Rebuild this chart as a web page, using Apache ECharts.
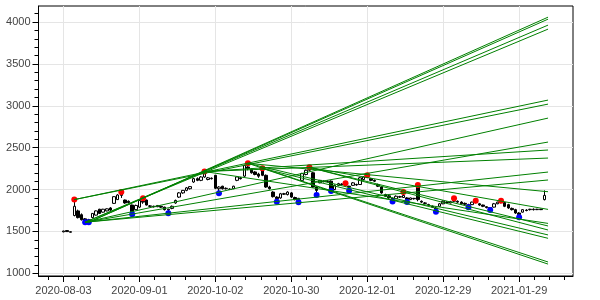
<!DOCTYPE html>
<html><head><meta charset="utf-8">
<script src="https://cdn.jsdelivr.net/npm/echarts@6/dist/echarts.min.js"></script>
<style>html,body{margin:0;padding:0;background:#fff}#c{width:600px;height:300px}</style>
</head><body><div id="c"></div>
<script>
// x tick labels (every 21 trading days, starting at index 0)
const tickLabels = ['2020-08-03','2020-09-01','2020-10-02','2020-10-30','2020-12-01','2020-12-29','2021-01-29'];
const tickStep = 21;
const yTicks = [1000,1500,2000,2500,3000,3500,4000];

const open  = [1495,1510,1490,1690,1745,1700,1650,1625,1665,1695,1765,1730,1745,1780,1835,1880,1930,1875,1860,1815,
1760,1790,1860,1875,1800,1800,1795,1800,1790,1755,1775,1840,1910,1960,1990,2010,2090,2130,2110,2150,
2120,2135,2170,2010,2040,2010,2000,2010,2110,2140,2160,2270,2245,2210,2185,2230,2170,2030,1970,1910,
1900,1950,1940,1960,1905,1880,2110,2180,2230,2200,2030,2080,2100,2095,2100,2000,2050,2065,2060,2040,
2050,2060,2060,2120,2150,2130,2110,2060,2030,1940,1925,1895,1890,1915,1905,1900,1880,1895,2040,1860,
1840,1820,1800,1780,1800,1830,1850,1840,1860,1860,1850,1835,1820,1820,1850,1830,1815,1795,1785,1790,
1830,1850,1845,1820,1775,1760,1720,1730,1755,1760,1765,1760,1765,1880];
const close = [1505,1498,1497,1800,1665,1640,1625,1640,1715,1745,1715,1765,1770,1755,1915,1935,1950,1840,1845,1735,
1810,1870,1850,1815,1805,1795,1810,1790,1760,1765,1800,1870,1960,1990,2020,2035,2130,2110,2150,2190,
2140,2130,2015,2030,2010,2015,2005,2040,2150,2130,2290,2250,2200,2180,2160,2170,2030,2010,1915,1890,
1950,1945,1970,1910,1880,1895,2190,2230,2250,2030,1990,2110,2095,2100,1995,2050,2070,2060,2050,2030,
2080,2055,2140,2150,2160,2110,2100,2040,1960,1920,1900,1880,1920,1910,1930,1880,1900,1890,1880,1850,
1835,1815,1790,1770,1830,1860,1845,1855,1870,1850,1830,1825,1810,1850,1845,1815,1800,1785,1775,1830,
1850,1845,1800,1780,1760,1720,1700,1760,1750,1765,1760,1765,1760,1930];
const low   = [1490,1494,1487,1680,1655,1630,1610,1610,1655,1690,1710,1725,1740,1745,1830,1875,1900,1830,1835,1704,
1755,1780,1830,1810,1790,1785,1790,1780,1750,1716,1765,1830,1900,1950,1980,2000,2080,2100,2100,2140,
2110,2120,2005,1955,2000,2000,1995,2005,2100,2120,2150,2230,2190,2170,2140,2160,2020,2000,1905,1855,
1890,1935,1930,1900,1870,1848,2100,2170,2220,2020,1935,2075,2085,2085,1982,1995,2040,2050,2040,1985,
2045,2045,2055,2115,2140,2100,2090,2030,1950,1910,1890,1858,1885,1900,1900,1852,1875,1880,1860,1840,
1825,1805,1780,1735,1795,1825,1835,1835,1850,1840,1820,1815,1788,1815,1835,1805,1790,1775,1756,1785,
1825,1835,1790,1770,1750,1710,1669,1725,1740,1750,1750,1755,1755,1870];
const high  = [1508,1513,1500,1880,1760,1715,1660,1650,1720,1750,1770,1770,1775,1790,1920,1945,1970,1880,1870,1820,
1820,1880,1895,1880,1815,1808,1815,1808,1795,1770,1810,1880,1970,1995,2030,2040,2140,2145,2160,2215,
2150,2145,2175,2040,2045,2025,2015,2045,2155,2150,2295,2313,2255,2220,2200,2253,2180,2045,1980,1920,
1960,1960,1980,1970,1915,1900,2200,2240,2265,2210,2040,2115,2110,2110,2110,2060,2080,2075,2074,2045,
2090,2070,2150,2160,2170,2140,2120,2070,2040,1950,1935,1905,1930,1925,1970,1910,1905,1900,2054,1870,
1850,1830,1810,1790,1840,1870,1860,1865,1895,1870,1860,1845,1830,1855,1867,1840,1820,1800,1790,1840,
1855,1867,1850,1830,1785,1770,1730,1765,1765,1770,1775,1770,1770,1990];

const peakIdx = [3,16,22,39,51,55,68,78,84,94,98,108,114,121];
const peakVal = [1880,1970,1895,2215,2313,2253,2265,2074,2170,1970,2054,1895,1867,1867];
const troughIdx = [6,7,19,29,43,59,65,70,74,79,91,95,103,112,118,126];
const troughVal = [1610,1610,1704,1716,1955,1855,1848,1935,1982,1985,1858,1852,1735,1788,1756,1669];

// trend lines: start index, start value, value at the end index
const lineEndIdx = 134;
const lineStartIdx = [6,6,7,7,3,3,6,6,39,39,6,6,51,55,51,55,68,68,39,51,68];
const lineStartVal = [1610,1610,1610,1610,1880,1880,1610,1610,2215,2215,1610,1610,2313,2253,2313,2253,2265,2265,2215,2313,2265];
const lineEndVal   = [3915,3963,4034,4058,3068,3020,2853,2567,2472,2376,2209,2114,1135,1110,1458,1418,1517,1565,1596,1974,1763];

const xMin = -6.9, xMax = 140.9, yMin = 968, yMax = 4191;

const majorX = tickLabels.map((_, i) => i * tickStep);
const minorX = [];
for (let k = -2; k <= 6 * 5 + 5; k++) { const v = k * tickStep / 5; if (k % 5 !== 0 && v > xMin && v < xMax) minorX.push(+v.toFixed(3)); }
const minorY = [];
for (let v = 900; v <= 4200; v += 100) { if (v % 500 !== 0 && v > yMin && v < yMax) minorY.push(v); }

const candles = open.map((o, i) => [i, o, close[i], low[i], high[i]]);
const font = { fontFamily: 'Liberation Sans, Arial, Helvetica, sans-serif', fontSize: 11, color: '#444' };

const series = [{
  type: 'candlestick', data: candles, encode: { x: 0, y: [1, 2, 3, 4] },
  barWidth: 3, z: 2, silent: true,
  itemStyle: { color: '#ffffff', color0: '#000000', borderColor: '#000000', borderColor0: '#000000', borderWidth: 1 }
}, {
  type: 'scatter', data: peakIdx.map((x, i) => [x, peakVal[i]]), symbolSize: 6, z: 3, silent: true,
  itemStyle: { color: '#ff0000', opacity: 1 }
}, {
  type: 'scatter', data: troughIdx.map((x, i) => [x, troughVal[i]]), symbolSize: 6, z: 3, silent: true,
  itemStyle: { color: '#0000ff', opacity: 1 }
}];
lineStartIdx.forEach((s, i) => {
  series.push({ type: 'line', data: [[s, lineStartVal[i]], [lineEndIdx, lineEndVal[i]]], symbol: 'none', z: 4, silent: true,
    lineStyle: { color: '#008000', width: 1 } });
});

const chart = echarts.init(document.getElementById('c'), null, { renderer: 'canvas' });
chart.setOption({
  animation: false,
  grid: { left: 38.5, right: 27, top: 6, bottom: 24, show: true, borderColor: '#000', borderWidth: 1, backgroundColor: 'transparent' },
  xAxis: [{
    type: 'value', min: xMin, max: xMax, position: 'bottom',
    axisLine: { onZero: false, lineStyle: { color: '#000', width: 1 } },
    axisTick: { show: true, length: 6, customValues: majorX, lineStyle: { color: '#000' } },
    axisLabel: { customValues: majorX, margin: 9, formatter: v => tickLabels[Math.round(v / tickStep)] || '', ...font },
    splitLine: { show: true, lineStyle: { color: '#e5e5e5', width: 1 } }
  }, {
    type: 'value', min: xMin, max: xMax, position: 'bottom',
    axisLine: { show: false, onZero: false }, axisLabel: { show: false }, splitLine: { show: false },
    axisTick: { show: true, length: 4, customValues: minorX, lineStyle: { color: '#000' } }
  }],
  yAxis: [{
    type: 'value', min: yMin, max: yMax, position: 'left',
    axisLine: { show: true, onZero: false, lineStyle: { color: '#000', width: 1 } },
    axisTick: { show: true, length: 6, customValues: yTicks, lineStyle: { color: '#000' } },
    axisLabel: { customValues: yTicks, margin: 8, formatter: v => String(v), ...font },
    splitLine: { show: true, lineStyle: { color: '#e5e5e5', width: 1 } }
  }, {
    type: 'value', min: yMin, max: yMax, position: 'left',
    axisLine: { show: false, onZero: false }, axisLabel: { show: false }, splitLine: { show: false },
    axisTick: { show: true, length: 4, customValues: minorY, lineStyle: { color: '#000' } }
  }],
  series: series
});
</script></body></html>
